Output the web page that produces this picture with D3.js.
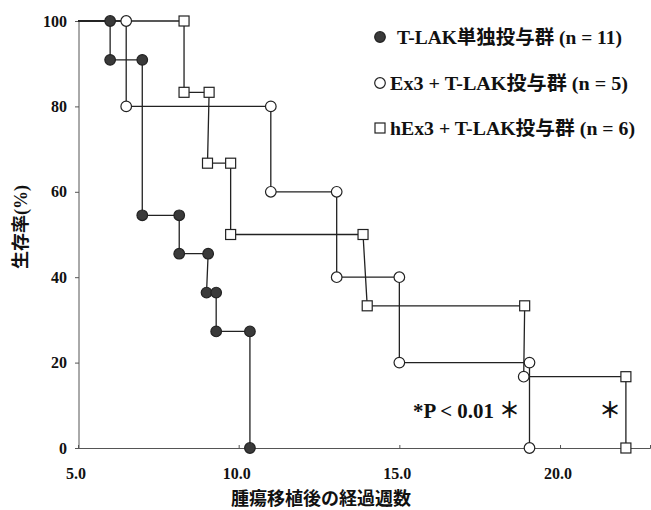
<!DOCTYPE html>
<html><head><meta charset="utf-8">
<script src="https://cdn.jsdelivr.net/npm/d3@7"></script>
<style>
body{margin:0;background:#fff;}
text{font-family:"Liberation Serif","Noto Sans CJK JP",serif;font-weight:bold;fill:#111;}
</style></head>
<body><svg id="c" width="651" height="510"></svg>
<script>
// ---- data ----
const xTicks = [5, 10, 15, 20];
const xTickLabels = ["5.0", "10.0", "15.0", "20.0"];
const yTicks = [0, 20, 40, 60, 80, 100];

const tlakTimes = [6.0, 6.0, 7.0, 7.0, 8.15, 8.15, 9.05, 9.0, 9.3, 9.3, 10.35, 10.35];
const tlakSurv  = [100, 90.9, 90.9, 54.5, 54.5, 45.5, 45.5, 36.4, 36.4, 27.3, 27.3, 0];

const ex3Times = [6.5, 6.5, 11.0, 11.0, 13.05, 13.05, 15.0, 15.0, 19.05, 19.05];
const ex3Surv  = [100, 80, 80, 60, 60, 40, 40, 20, 20, 0];

const hex3Times = [8.3, 8.3, 9.08, 9.03, 9.75, 9.75, 13.87, 14.0, 18.9, 18.87, 22.05, 22.05];
const hex3Surv  = [100, 83.3, 83.3, 66.7, 66.7, 50, 50, 33.3, 33.3, 16.7, 16.7, 0];
const hex3Shapes = ["square","square","square","square","square","square","square","square","square","circle","square","square"];

const legendLabels = ["T-LAK単独投与群 (n = 11)", "Ex3 + T-LAK投与群 (n = 5)", "hEx3 + T-LAK投与群 (n = 6)"];

// ---- chart ----
const svg = d3.select("#c");
const x = d3.scaleLinear().domain([5, 22.8]).range([78, 650]);
const y = d3.scaleLinear().domain([0, 100]).range([448, 21]);

// axes
const ax = svg.append("g").attr("transform", "translate(0,448)")
  .call(d3.axisBottom(x).tickValues(xTicks).tickSize(-3).tickFormat(""));
const ay = svg.append("g").attr("transform", "translate(79,0)")
  .call(d3.axisLeft(y).tickValues(yTicks).tickSize(4).tickFormat(""));
[ax, ay].forEach(g => {
  g.select(".domain").attr("stroke", "#555").attr("stroke-width", 1);
  g.selectAll(".tick line").attr("stroke", "#555");
});
ay.select(".domain").attr("d", `M0,${y(100)}V${y(0)}`);

svg.append("g").selectAll("text").data(xTicks).join("text")
  .attr("x", d => x(d) - 2).attr("y", 479).attr("text-anchor", "middle")
  .attr("font-size", 16).text((d, i) => xTickLabels[i]);
svg.append("g").selectAll("text").data(yTicks).join("text")
  .attr("x", 67).attr("y", d => y(d) + 5.5).attr("text-anchor", "end")
  .attr("font-size", 16).text(d => d);

svg.append("text").attr("transform", "translate(27,227) rotate(-90)")
  .attr("text-anchor", "middle").attr("font-size", 18).text("生存率(%)");
svg.append("text").attr("x", 321).attr("y", 505).attr("text-anchor", "middle")
  .attr("font-size", 18).text("腫瘍移植後の経過週数");

// lines
const line = d3.line().x(d => x(d[0])).y(d => y(d[1]));
function series(times, surv) {
  return [[5, 100]].concat(times.map((t, i) => [t, surv[i]]));
}
const lineG = svg.append("g").attr("fill", "none").attr("stroke", "#222").attr("stroke-width", 1.3);
lineG.append("path").attr("d", line(series(hex3Times, hex3Surv)));
lineG.append("path").attr("d", line(series(ex3Times, ex3Surv)));
lineG.append("path").attr("d", line(series(tlakTimes, tlakSurv)));

function drawMarker(g, shape, cx, cy, filled) {
  if (shape === "square") {
    g.append("rect").attr("x", cx - 5).attr("y", cy - 5).attr("width", 10).attr("height", 10)
      .attr("fill", "#fff").attr("stroke", "#222").attr("stroke-width", 1.2);
  } else {
    g.append("circle").attr("cx", cx).attr("cy", cy).attr("r", 5.3)
      .attr("fill", filled ? "#3a3a3a" : "#fff").attr("stroke", "#222").attr("stroke-width", 1.2);
  }
}
const mG = svg.append("g");
hex3Times.forEach((t, i) => drawMarker(mG, hex3Shapes[i], x(t), y(hex3Surv[i]), false));
ex3Times.forEach((t, i) => drawMarker(mG, "circle", x(t), y(ex3Surv[i]), false));
tlakTimes.forEach((t, i) => drawMarker(mG, "circle", x(t), y(tlakSurv[i]), true));

// legend
const legY = [37, 83, 128];
const legShapes = [["circle", true], ["circle", false], ["square", false]];
const legTextX = [397, 390, 390];
const legTextW = [225, 238, 245];
legendLabels.forEach((lab, i) => {
  drawMarker(svg, legShapes[i][0], 380, legY[i], legShapes[i][1]);
  svg.append("text").attr("x", legTextX[i]).attr("y", legY[i] + 6.5)
    .attr("font-size", 19).attr("textLength", legTextW[i])
    .attr("lengthAdjust", "spacingAndGlyphs").text(lab);
});

// annotations
svg.append("text").attr("x", 413).attr("y", 418).attr("font-size", 22)
  .attr("textLength", 107).attr("lengthAdjust", "spacingAndGlyphs").text("*P < 0.01 ＊");
svg.append("text").attr("x", 610).attr("y", 418).attr("text-anchor", "middle").attr("font-size", 22).text("＊");
</script></body></html>
